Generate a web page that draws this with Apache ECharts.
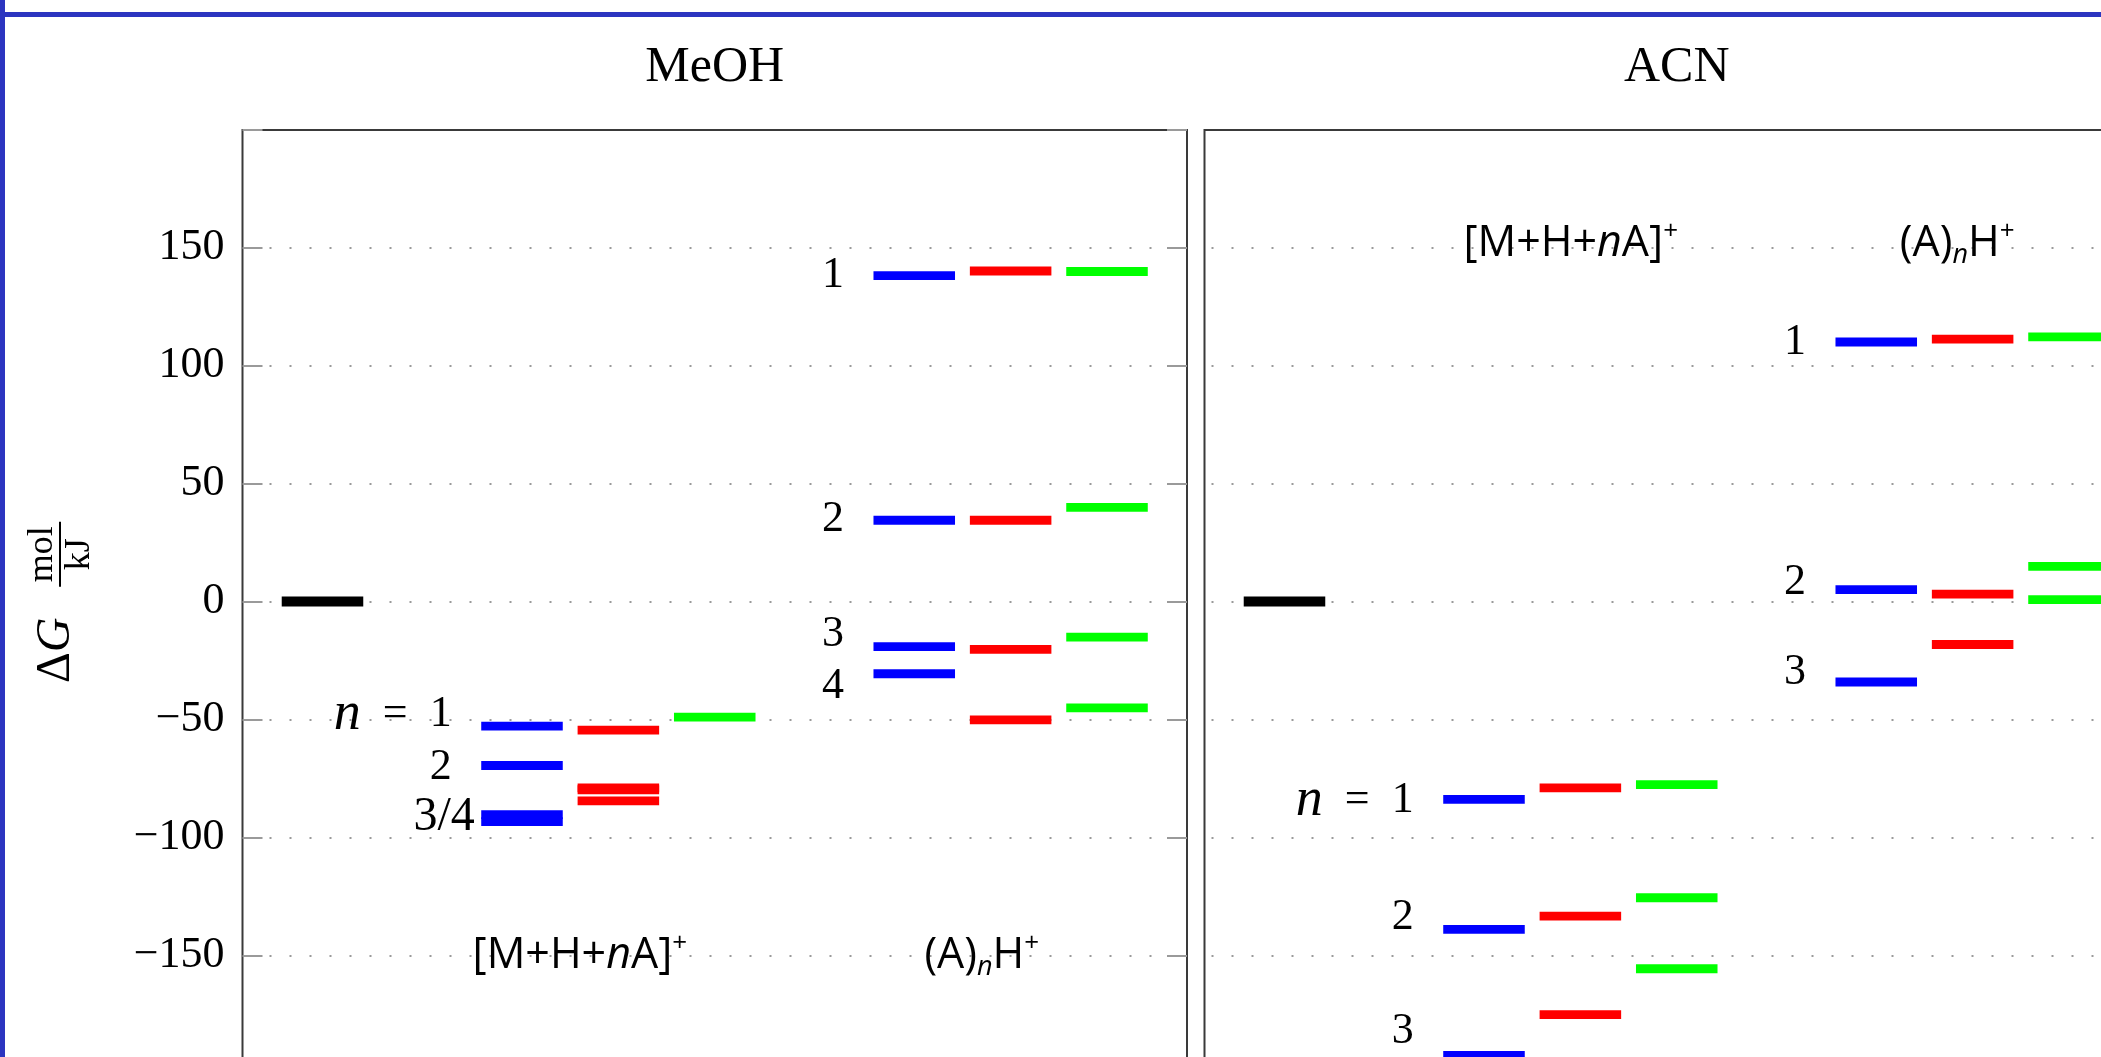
<!DOCTYPE html>
<html>
<head>
<meta charset="utf-8">
<script src="https://cdn.jsdelivr.net/npm/echarts@6/dist/echarts.min.js"></script>
<style>
html, body { margin: 0; padding: 0; background: #ffffff; width: 2101px; height: 1057px; overflow: hidden; }
#chart { width: 2200px; height: 1100px; }
</style>
</head>
<body>
<div id="chart"></div>
<script>
// ---------- DATA ----------
// Columns of energy levels (same layout in both panels)
const columnNames = ['reference', 'adduct blue', 'adduct red', 'adduct green', 'cluster blue', 'cluster red', 'cluster green'];
const columnX = [0.83, 2.90, 3.90, 4.90, 6.97, 7.97, 8.97];
const columnColor = ['#000000', '#0000ff', '#ff0000', '#00ff00', '#0000ff', '#ff0000', '#00ff00'];

// y axis ticks (kJ/mol)
const yTickLabels = [-150, -100, -50, 0, 50, 100, 150];

// MeOH panel: ΔG values
const meohReference = [0];
const meohAdductBlue = [-52.8, -69.5, -90.3, -93.3];
const meohAdductRed = [-54.5, -79.0, -79.8, -84.5];
const meohAdductGreen = [-49.0];
const meohClusterBlue = [138.2, 34.5, -19.1, -30.6];
const meohClusterRed = [140.2, 34.5, -20.3, -50.2];
const meohClusterGreen = [140.0, 40.0, -15.1, -45.1];

// ACN panel: ΔG values
const acnReference = [0];
const acnAdductBlue = [-83.9, -139.0, -192.5];
const acnAdductRed = [-79.0, -133.4, -175.2];
const acnAdductGreen = [-77.6, -125.6, -155.7];
const acnClusterBlue = [110.1, 5.1, -34.1];
const acnClusterRed = [111.3, 3.2, -18.2];
const acnClusterGreen = [112.3, 14.9, 0.8];

// n labels (text and anchor values)
const meohAdductLabelText = ['n = 1', '2', '3/4'];
const meohAdductLabelX = [2.17, 2.17, 2.41];
const meohAdductLabelY = [-48.0, -70.2, -91.4];
const meohClusterLabelText = ['1', '2', '3', '4'];
const meohClusterLabelY = [138.5, 34.7, -14.0, -36.0];
const acnAdductLabelText = ['n = 1', '2', '3'];
const acnAdductLabelY = [-84.3, -134.1, -182.2];
const acnClusterLabelText = ['1', '2', '3'];
const acnClusterLabelY = [110.1, 8.3, -29.9];
const adductLabelX = 2.17;
const clusterLabelX = 6.24;

// group labels
const groupLabelText = ['[M+H+nA]+', '(A)nH+'];
const meohGroupLabelX = [3.50, 7.67];
const meohGroupLabelY = [-150.3, -150.3];
const acnGroupLabelX = [3.80, 7.81];
const acnGroupLabelY = [151.9, 151.9];

const panelTitles = ['MeOH', 'ACN'];

// ---------- LAYOUT / STYLE ----------
const SERIF = "'Liberation Serif', 'DejaVu Serif', serif";
const SANS = "'Open Sans', 'Noto Sans', sans-serif";
const GRID_TOP = 130, GRID_H = 943.2, GRID_W = 944.5;
const GRID_LEFT = [242.5, 1204.5];
const LEVEL_HALF = 0.423;

const chart = echarts.init(document.getElementById('chart'), null, { renderer: 'canvas' });

function levelSeries(xIdx, yIdx, columns) {
  const data = [];
  columns.forEach((vals, c) => vals.forEach(v => data.push([columnX[c], v, c])));
  return {
    type: 'custom', xAxisIndex: xIdx, yAxisIndex: yIdx, data: data, silent: true, z: 3,
    renderItem: function (params, api) {
      const c = api.value(2);
      const a = api.coord([api.value(0) - LEVEL_HALF, api.value(1)]);
      const b = api.coord([api.value(0) + LEVEL_HALF, api.value(1)]);
      const lw = c === 0 ? 10 : 8.8;
      return {
        type: 'rect',
        shape: { x: a[0], y: a[1] - lw / 2, width: b[0] - a[0], height: lw },
        style: { fill: columnColor[c] }
      };
    }
  };
}

function levelLabelRich(s) {
  if (s.indexOf('n = ') === 0) {
    return '{n|n}{t|\u2002=\u2002' + s.slice(4) + '}';
  }
  if (s.indexOf('/') >= 0) return '{w|' + s + '}';
  return '{t|' + s + '}';
}
const levelRich = {
  n: { fontFamily: SERIF, fontStyle: 'italic', fontSize: 54, fill: '#000', color: '#000' },
  t: { fontFamily: SERIF, fontSize: 44, fill: '#000', color: '#000' },
  w: { fontFamily: SERIF, fontSize: 48, fill: '#000', color: '#000' }
};

function groupLabelRich(s) {
  if (s === '[M+H+nA]+') return '{a|[M+H+}{i|n}{a|A]}{sup|+}';
  return '{a|(A)}{sub|n}{a|H}{sup|+}';
}
const groupRich = {
  a: { fontFamily: SANS, fontSize: 43, lineHeight: 50, color: '#000', fill: '#000' },
  i: { fontFamily: SANS, fontSize: 43, lineHeight: 50, fontStyle: 'italic', color: '#000', fill: '#000' },
  sup: { fontFamily: SANS, fontSize: 26, lineHeight: 26, verticalAlign: 'top', color: '#000', fill: '#000' },
  sub: { fontFamily: SANS, fontSize: 27, lineHeight: 24, verticalAlign: 'bottom', fontStyle: 'italic', color: '#000', fill: '#000' }
};

function textSeries(xIdx, yIdx, xs, ys, texts, align, toRich, rich) {
  const data = ys.map((y, i) => [Array.isArray(xs) ? xs[i] : xs, y, i]);
  return {
    type: 'custom', xAxisIndex: xIdx, yAxisIndex: yIdx, data: data, silent: true, z: 4,
    renderItem: function (params, api) {
      const i = api.value(2);
      const p = api.coord([api.value(0), api.value(1)]);
      return {
        type: 'text',
        x: p[0], y: p[1],
        style: {
          text: toRich(texts[i]), rich: rich,
          align: align, textAlign: align,
          verticalAlign: 'middle', textVerticalAlign: 'middle',
          fill: '#000'
        }
      };
    }
  };
}

function yAxisBase(gridIndex, position) {
  return {
    type: 'value', gridIndex: gridIndex, position: position,
    min: -200, max: 200, interval: 50,
    axisLine: { show: false },
    axisTick: { show: false },
    axisLabel: { show: false },
    splitLine: { show: false }
  };
}

const dottedGrid = { show: true, showMinLine: false, showMaxLine: false,
  lineStyle: { color: '#9a9a9a', width: 2, type: [2, 18], dashOffset: 13 } };

const yMeohLeft = yAxisBase(0, 'left');
yMeohLeft.axisTick = { show: true, inside: true, length: 20, lineStyle: { color: '#9a9a9a', width: 2 } };
yMeohLeft.axisLabel = {
  show: true, margin: 18, color: '#000', fontFamily: SERIF, fontSize: 44,
  formatter: function (v) {
    return yTickLabels.indexOf(v) >= 0 ? String(v).replace('-', '\u2212') : '';
  }
};
yMeohLeft.splitLine = dottedGrid;

const yMeohRight = yAxisBase(0, 'right');
yMeohRight.axisTick = { show: true, inside: true, length: 20, lineStyle: { color: '#9a9a9a', width: 2 } };

const yAcnLeft = yAxisBase(1, 'left');
yAcnLeft.splitLine = dottedGrid;

const option = {
  animation: false,
  backgroundColor: '#ffffff',
  grid: GRID_LEFT.map(l => ({
    left: l, top: GRID_TOP, width: GRID_W, height: GRID_H,
    show: true, borderColor: '#3a3a3a', borderWidth: 2, backgroundColor: 'transparent'
  })),
  xAxis: [0, 1].map(g => ({ type: 'value', gridIndex: g, min: 0, max: 9.8, show: false })),
  yAxis: [yMeohLeft, yMeohRight, yAcnLeft],
  series: [
    levelSeries(0, 0, [meohReference, meohAdductBlue, meohAdductRed, meohAdductGreen, meohClusterBlue, meohClusterRed, meohClusterGreen]),
    levelSeries(1, 2, [acnReference, acnAdductBlue, acnAdductRed, acnAdductGreen, acnClusterBlue, acnClusterRed, acnClusterGreen]),
    textSeries(0, 0, meohAdductLabelX, meohAdductLabelY, meohAdductLabelText, 'right', levelLabelRich, levelRich),
    textSeries(0, 0, clusterLabelX, meohClusterLabelY, meohClusterLabelText, 'right', levelLabelRich, levelRich),
    textSeries(1, 2, adductLabelX, acnAdductLabelY, acnAdductLabelText, 'right', levelLabelRich, levelRich),
    textSeries(1, 2, clusterLabelX, acnClusterLabelY, acnClusterLabelText, 'right', levelLabelRich, levelRich),
    textSeries(0, 0, meohGroupLabelX, meohGroupLabelY, groupLabelText, 'center', groupLabelRich, groupRich),
    textSeries(1, 2, acnGroupLabelX, acnGroupLabelY, groupLabelText, 'center', groupLabelRich, groupRich)
  ],
  graphic: [
    // panel titles
    { type: 'text', x: GRID_LEFT[0] + GRID_W / 2, y: 67.5,
      style: { text: panelTitles[0], font: '50px ' + SERIF, fill: '#000', align: 'center', textAlign: 'center', verticalAlign: 'middle', textVerticalAlign: 'middle' } },
    { type: 'text', x: GRID_LEFT[1] + GRID_W / 2, y: 67.5,
      style: { text: panelTitles[1], font: '50px ' + SERIF, fill: '#000', align: 'center', textAlign: 'center', verticalAlign: 'middle', textVerticalAlign: 'middle' } },
    // y axis title ΔG mol/kJ (rotated)
    { type: 'group', x: 61, y: 602, rotation: Math.PI / 2, children: [
      { type: 'text', x: -81, y: -5,
        style: { text: '{d|\u0394}{g|G}', rich: {
          d: { fontFamily: SERIF, fontSize: 48, fill: '#000', color: '#000' },
          g: { fontFamily: SERIF, fontSize: 48, fontStyle: 'italic', fill: '#000', color: '#000' } },
          align: 'left', textAlign: 'left', verticalAlign: 'middle', textVerticalAlign: 'middle' } },
      { type: 'text', x: 47.8, y: -18,
        style: { text: 'mol', font: '36px ' + SERIF, fill: '#000', align: 'center', textAlign: 'center', verticalAlign: 'middle', textVerticalAlign: 'middle' } },
      { type: 'line', shape: { x1: 15.3, y1: -1, x2: 80.3, y2: -1 }, style: { stroke: '#000', lineWidth: 2 } },
      { type: 'text', x: 47.8, y: 18.5,
        style: { text: 'kJ', font: '36px ' + SERIF, fill: '#000', align: 'center', textAlign: 'center', verticalAlign: 'middle', textVerticalAlign: 'middle' } }
    ] },
    // blue frame of the slide
    { type: 'rect', shape: { x: 0, y: 12, width: 2200, height: 5 }, style: { fill: '#2c35c0' }, z: 100 },
    { type: 'rect', shape: { x: 0, y: 0, width: 5, height: 1100 }, style: { fill: '#2c35c0' }, z: 100 }
  ]
};

chart.setOption(option);
</script>
</body>
</html>
